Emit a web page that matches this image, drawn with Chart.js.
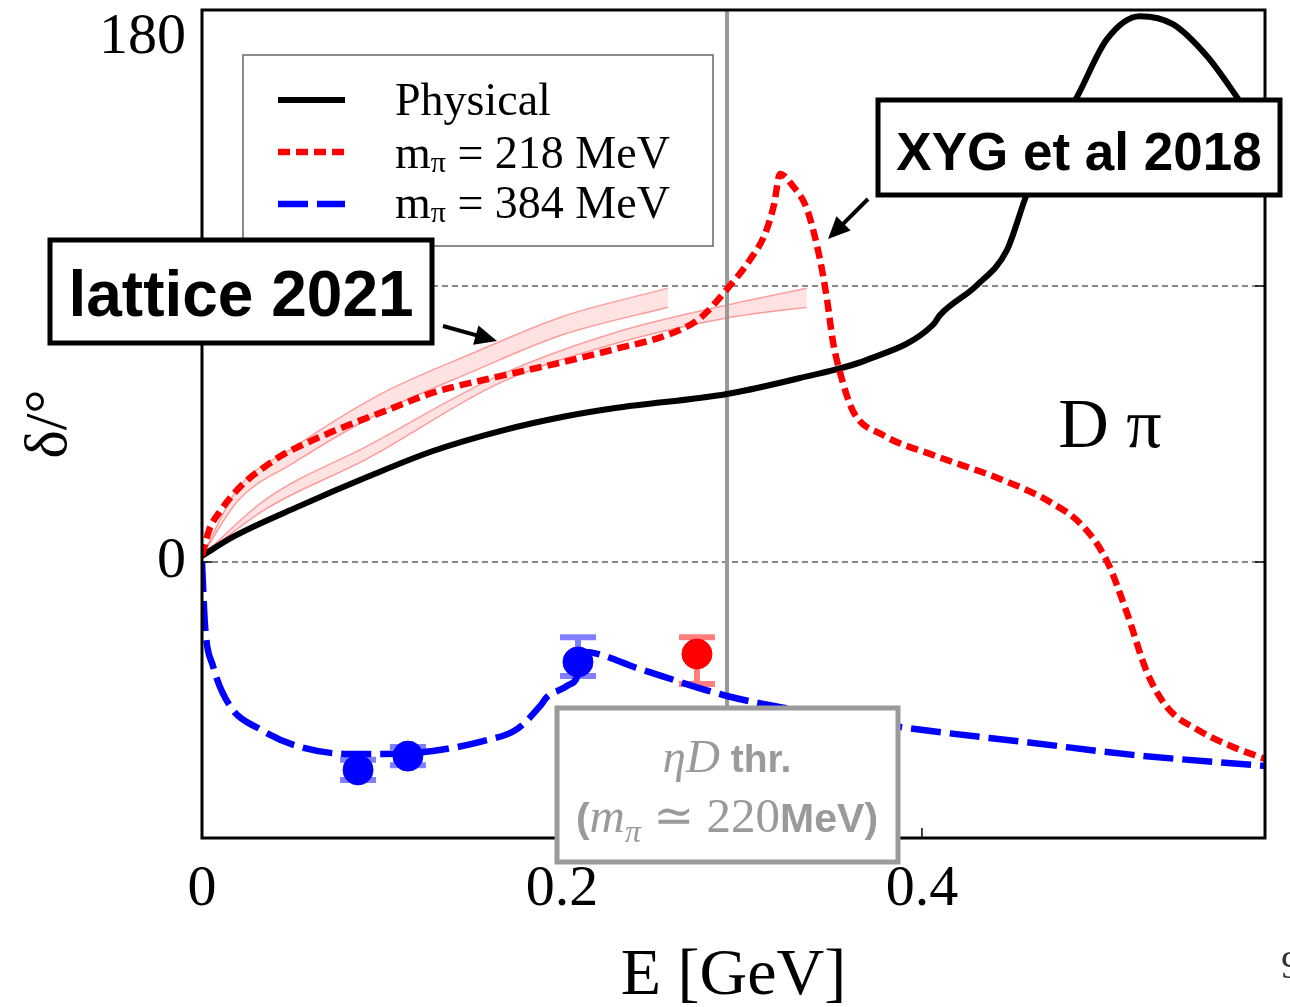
<!DOCTYPE html>
<html>
<head>
<meta charset="utf-8">
<script src="https://cdn.jsdelivr.net/npm/chart.js@4.4.1/dist/chart.umd.min.js"></script>
<style>
  html, body { margin: 0; padding: 0; background: #fff; }
</style>
</head>
<body>
<canvas id="myChart" width="1290" height="1007"></canvas>
<script>
// axis ticks
const xTicks = [0, 0.2, 0.4];
const xTickLabels = ["0", "0.2", "0.4"];
const yTicks = [0, 90, 180];
const yTickLabels = ["0", "", "180"];

// Physical
const physE = [0, 0.0172, 0.0544, 0.0917, 0.1283, 0.1656, 0.2028, 0.2306, 0.2917, 0.3322, 0.3694, 0.4061, 0.41, 0.4306, 0.4472, 0.4583, 0.4711, 0.4861, 0.5028, 0.5211, 0.5394, 0.5583, 0.575, 0.5906];
const physDelta = [2, 8.2, 18.3, 27.7, 36.2, 42.7, 47.6, 50.3, 54.8, 60.0, 65.9, 77.3, 80.5, 90.3, 101.7, 120.0, 136.3, 151.6, 170.5, 178.0, 175.4, 165.0, 151.6, 137.9];

// m_pi = 218 MeV
const m218E = [0, 0.004, 0.01, 0.018, 0.0267, 0.036, 0.045, 0.058, 0.0728, 0.1006, 0.1283, 0.1656, 0.2028, 0.2306, 0.2583, 0.2767, 0.2917, 0.3044, 0.3128, 0.3178, 0.3211, 0.3283, 0.3361, 0.3433, 0.3472, 0.3506, 0.3544, 0.3617, 0.3783, 0.4061, 0.4433, 0.4711, 0.4894, 0.5028, 0.5139, 0.525, 0.5361, 0.5544, 0.5728, 0.5906];
const m218Delta = [2, 10.5, 16.5, 22.5, 27.5, 31.5, 35.0, 38.8, 42.6, 49.0, 55.2, 60.6, 65.5, 69.6, 74.0, 79.5, 89.0, 98.5, 107.0, 116.5, 126.5, 122.6, 115.1, 98.8, 85.8, 71.7, 62.0, 49.2, 41.4, 34.9, 27.1, 19.6, 11.7, 0.3, -16.6, -35.9, -47.3, -55.1, -60.3, -64.2];

// m_pi = 384 MeV
const m384E = [0, 0.0017, 0.0061, 0.0156, 0.0322, 0.0544, 0.0822, 0.1006, 0.1283, 0.1561, 0.175, 0.1878, 0.1917, 0.2028, 0.2089, 0.2117, 0.2433, 0.2917, 0.3267, 0.3878, 0.4617, 0.5172, 0.5906];
const m384Delta = [0, -20.9, -33.9, -47.0, -54.5, -60.3, -62.6, -62.6, -61.6, -58.4, -54.5, -47.0, -44.0, -40.4, -36.8, -29.3, -34.9, -43.7, -47.9, -53.8, -59.0, -62.9, -66.5];

// lattice 2021 bands
const latAE = [0, 0.02, 0.05, 0.1, 0.15, 0.2, 0.2589];
const latAHi = [2, 24, 37, 55, 68, 80, 89.3];
const latALo = [2, 20, 32, 49, 62, 74, 83.1];
const latBE = [0, 0.0356, 0.0917, 0.1656, 0.2306, 0.2917, 0.336];
const latBHi = [2, 20.5, 37.8, 61.0, 75.0, 83.8, 89.3];
const latBLo = [2, 17.3, 33.6, 58.4, 71.4, 79.6, 83.1];

// lattice points
const pts384E = [0.0867, 0.1144, 0.2089];
const pts384Delta = [-67.8, -63.3, -32.6];
const pts384Lo = [-71.1, -66.3, -37.2];
const pts384Hi = [-64.5, -60.3, -24.5];
const pts218E = [0.275];
const pts218Delta = [-30.0];
const pts218Lo = [-39.8];
const pts218Hi = [-24.5];

// eta D threshold
const thrE = [0.2917, 0.2917];
const thrDelta = [180, -90];

const legendLabels = [["Physical", "", ""], ["m", "π", " = 218 MeV"], ["m", "π", " = 384 MeV"]];

const SERIF = "'Liberation Serif', 'DejaVu Serif', serif";
const SANS = "'Liberation Sans', Arial, sans-serif";

const xy = (xs, ys) => xs.map((x, i) => ({ x: x, y: ys[i] }));

function richText(ctx, segs, x, y, center) {
  let w = 0;
  segs.forEach(s => { ctx.font = s.font; w += ctx.measureText(s.t).width; });
  let cx = center ? x - w / 2 : x;
  ctx.textAlign = "left";
  ctx.textBaseline = "alphabetic";
  segs.forEach(s => {
    ctx.font = s.font;
    ctx.fillText(s.t, cx, y + (s.dy || 0));
    cx += ctx.measureText(s.t).width;
  });
}

function arrow(ctx, x1, y1, x2, y2) {
  const a = Math.atan2(y2 - y1, x2 - x1), L = 22, W = 10;
  ctx.beginPath();
  ctx.moveTo(x1, y1);
  ctx.lineTo(x2 - L * 0.7 * Math.cos(a), y2 - L * 0.7 * Math.sin(a));
  ctx.stroke();
  ctx.beginPath();
  ctx.moveTo(x2, y2);
  ctx.lineTo(x2 - L * Math.cos(a) + W * Math.sin(a), y2 - L * Math.sin(a) - W * Math.cos(a));
  ctx.lineTo(x2 - L * Math.cos(a) - W * Math.sin(a), y2 - L * Math.sin(a) + W * Math.cos(a));
  ctx.closePath();
  ctx.fill();
}

function errBars(ctx, xs, xsc, ysc, lo, hi, color) {
  ctx.strokeStyle = color;
  ctx.lineWidth = 6;
  xs.forEach((x, i) => {
    const px = xsc.getPixelForValue(x);
    const p1 = ysc.getPixelForValue(lo[i]), p2 = ysc.getPixelForValue(hi[i]);
    ctx.beginPath();
    ctx.moveTo(px, p1); ctx.lineTo(px, p2);
    ctx.moveTo(px - 18, p1); ctx.lineTo(px + 18, p1);
    ctx.moveTo(px - 18, p2); ctx.lineTo(px + 18, p2);
    ctx.stroke();
  });
}

const overlay = {
  id: "overlay",
  beforeDatasetsDraw(chart) {
    const ctx = chart.ctx, xs = chart.scales.x, ys = chart.scales.y;
    ctx.save();
    errBars(ctx, pts384E, xs, ys, pts384Lo, pts384Hi, "rgba(0,0,255,0.5)");
    errBars(ctx, pts218E, xs, ys, pts218Lo, pts218Hi, "rgba(255,0,0,0.5)");
    ctx.restore();
  },
  afterDatasetsDraw(chart) {
    const ctx = chart.ctx, a = chart.chartArea;
    const xs = chart.scales.x, ys = chart.scales.y;
    ctx.save();

    // frame + inner ticks
    ctx.strokeStyle = "#000";
    ctx.lineWidth = 3;
    ctx.strokeRect(a.left, a.top, a.right - a.left, a.bottom - a.top);
    ctx.lineWidth = 1.5;
    ctx.beginPath();
    yTicks.forEach(v => {
      const py = ys.getPixelForValue(v);
      ctx.moveTo(a.right, py); ctx.lineTo(a.right - 10, py);
      ctx.moveTo(a.left, py); ctx.lineTo(a.left + 10, py);
    });
    xTicks.forEach(v => {
      const px = xs.getPixelForValue(v);
      ctx.moveTo(px, a.bottom); ctx.lineTo(px, a.bottom - 10);
    });
    ctx.stroke();

    // legend
    ctx.fillStyle = "#fff";
    ctx.fillRect(243, 55, 470, 191);
    ctx.strokeStyle = "#666";
    ctx.lineWidth = 1.5;
    ctx.strokeRect(243, 55, 470, 191);
    const lineY = [100, 152, 204];
    const textY = [115, 168, 218];
    [0, 1, 2].forEach(i => {
      const ds = chart.data.datasets[i];
      ctx.strokeStyle = ds.borderColor;
      ctx.lineWidth = ds.borderWidth;
      ctx.setLineDash(ds.borderDash || []);
      ctx.lineCap = "butt";
      ctx.beginPath();
      ctx.moveTo(278, lineY[i]); ctx.lineTo(345, lineY[i]);
      ctx.stroke();
      ctx.setLineDash([]);
      ctx.fillStyle = "#000";
      const l = legendLabels[i];
      richText(ctx, [
        { t: l[0], font: "46px " + SERIF },
        { t: l[1], font: "30px " + SERIF, dy: 4 },
        { t: l[2], font: "46px " + SERIF }
      ], 395, textY[i], false);
    });

    // lattice 2021 box
    ctx.fillStyle = "#fff";
    ctx.fillRect(50, 240, 382, 103);
    ctx.strokeStyle = "#000";
    ctx.lineWidth = 5;
    ctx.strokeRect(50, 240, 382, 103);
    ctx.fillStyle = "#000";
    ctx.font = "bold 64px " + SANS;
    ctx.textAlign = "center";
    ctx.textBaseline = "alphabetic";
    ctx.fillText("lattice 2021", 241, 316);
    ctx.lineWidth = 4;
    arrow(ctx, 443, 326, 497, 341);

    // XYG et al 2018 box
    ctx.fillStyle = "#fff";
    ctx.fillRect(878, 100, 402, 95);
    ctx.strokeStyle = "#000";
    ctx.lineWidth = 5;
    ctx.strokeRect(878, 100, 402, 95);
    ctx.fillStyle = "#000";
    ctx.font = "bold 53px " + SANS;
    ctx.textAlign = "center";
    ctx.fillText("XYG et al 2018", 1079, 170);
    ctx.lineWidth = 4;
    arrow(ctx, 868, 199, 828, 239);

    // D pi
    ctx.font = "70px " + SERIF;
    ctx.textAlign = "center";
    ctx.fillText("D π", 1110, 447);

    // eta D threshold box
    ctx.fillStyle = "#fff";
    ctx.fillRect(557, 708, 341, 154);
    ctx.strokeStyle = "#9a9a9a";
    ctx.lineWidth = 5;
    ctx.strokeRect(557, 708, 341, 154);
    ctx.fillStyle = "#9a9a9a";
    richText(ctx, [
      { t: "ηD", font: "italic 47px " + SERIF },
      { t: " thr.", font: "bold 39px " + SANS }
    ], 727, 772, true);
    richText(ctx, [
      { t: "(", font: "bold 41px " + SANS },
      { t: "m", font: "italic 49px " + SERIF },
      { t: "π", font: "italic 32px " + SERIF, dy: 10 },
      { t: " ≃ 220", font: "49px " + SERIF },
      { t: "MeV)", font: "bold 41px " + SANS }
    ], 727, 832, true);

    // page number at the cut edge
    ctx.fillStyle = "#333";
    ctx.font = "40px " + SERIF;
    ctx.textAlign = "left";
    ctx.fillText("9", 1281, 978);

    ctx.restore();
  }
};

const curve = (label, xs, ys, color, width, dash, order) => ({
  label: label,
  data: xy(xs, ys),
  borderColor: color,
  borderWidth: width,
  borderDash: dash,
  borderCapStyle: "butt",
  pointRadius: 0,
  fill: false,
  cubicInterpolationMode: "monotone",
  order: order
});

const band = (xs, ys, fill, order) => ({
  data: xy(xs, ys),
  borderColor: "rgba(255,90,90,0.55)",
  borderWidth: 1.5,
  backgroundColor: "rgba(255,0,0,0.11)",
  pointRadius: 0,
  fill: fill,
  cubicInterpolationMode: "monotone",
  order: order
});

new Chart(document.getElementById("myChart"), {
  type: "line",
  data: {
    datasets: [
      curve("Physical", physE, physDelta, "#000", 6, [], 4),
      curve("m_pi = 218 MeV", m218E, m218Delta, "#ff0000", 6.5, [12, 6], 3),
      curve("m_pi = 384 MeV", m384E, m384Delta, "#0000ff", 6.5, [30, 9], 2),
      band(latAE, latAHi, "+1", 6),
      band(latAE, latALo, false, 7),
      band(latBE, latBHi, "+1", 8),
      band(latBE, latBLo, false, 9),
      {
        data: xy(thrE, thrDelta),
        borderColor: "#999",
        borderWidth: 4,
        pointRadius: 0,
        fill: false,
        order: 5
      },
      {
        type: "scatter",
        data: xy(pts384E, pts384Delta),
        backgroundColor: "#0000ff",
        borderColor: "#0000ff",
        pointRadius: 15,
        order: 1
      },
      {
        type: "scatter",
        data: xy(pts218E, pts218Delta),
        backgroundColor: "#ff0000",
        borderColor: "#ff0000",
        pointRadius: 15,
        order: 0
      }
    ]
  },
  options: {
    responsive: false,
    animation: false,
    devicePixelRatio: 1,
    layout: { autoPadding: false, padding: { top: 10, right: 25, left: 0, bottom: 0 } },
    plugins: {
      legend: { display: false },
      tooltip: { enabled: false }
    },
    scales: {
      x: {
        type: "linear",
        position: "bottom",
        min: 0,
        max: 0.5906,
        afterBuildTicks: s => { s.ticks = xTicks.map(v => ({ value: v })); },
        afterFit: s => { s.height = 169; s.paddingLeft = 0; s.paddingRight = 0; },
        grid: { display: false, drawTicks: false },
        border: { display: false },
        ticks: {
          autoSkip: false,
          maxRotation: 0,
          padding: 17,
          color: "#000",
          font: { family: SERIF, size: 58 },
          callback: v => xTickLabels[xTicks.indexOf(v)]
        },
        title: {
          display: true,
          text: "E [GeV]",
          color: "#000",
          font: { family: SERIF, size: 66, lineHeight: 1 },
          padding: { top: 0, bottom: -3 }
        }
      },
      y: {
        type: "linear",
        min: -90,
        max: 180,
        afterBuildTicks: s => { s.ticks = yTicks.map(v => ({ value: v })); },
        afterFit: s => { s.width = 202; s.paddingTop = 0; s.paddingBottom = 0; },
        grid: {
          drawTicks: false,
          lineWidth: 2,
          color: c => (c.tick && (c.tick.value === 0 || c.tick.value === 90)) ? "#888" : "rgba(0,0,0,0)"
        },
        border: { display: false, dash: [6, 4] },
        ticks: {
          autoSkip: false,
          padding: 16,
          color: "#000",
          font: { family: SERIF, size: 58, lineHeight: 0.95 },
          callback: v => {
            const l = yTickLabels[yTicks.indexOf(v)];
            return v === 180 ? ["", l] : l;
          }
        },
        title: {
          display: true,
          text: "δ/°",
          color: "#000",
          font: { family: SERIF, size: 60, lineHeight: 1 },
          padding: { top: 20, bottom: 0 }
        }
      }
    }
  },
  plugins: [overlay]
});
</script>
</body>
</html>
